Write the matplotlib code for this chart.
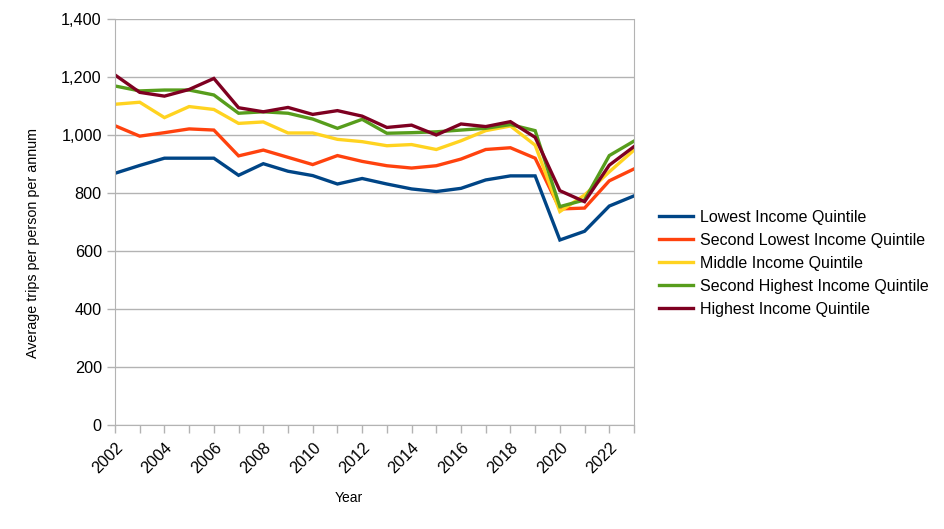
import numpy as np
import matplotlib
matplotlib.use("Agg")
import matplotlib.pyplot as plt
from matplotlib.ticker import FuncFormatter, MultipleLocator

plt.rcParams["font.family"] = ["Liberation Sans", "DejaVu Sans"]

# Years on the x axis
years = list(range(2002, 2024))

# Average trips per person per annum
lowest = [868, 895, 920, 920, 920, 861, 901, 875, 860, 831, 850,
          831, 814, 805, 816, 845, 859, 859, 638, 668, 755, 790]
second_lowest = [1032, 996, 1008, 1021, 1017, 928, 948, 923, 898, 929, 909,
                 894, 886, 894, 917, 950, 956, 920, 745, 748, 842, 883]
middle = [1106, 1113, 1060, 1098, 1088, 1040, 1045, 1007, 1007, 985, 977,
          963, 967, 950, 980, 1015, 1031, 965, 736, 793, 873, 948]
second_highest = [1169, 1152, 1155, 1155, 1138, 1075, 1080, 1075, 1055, 1023, 1054,
                  1006, 1008, 1011, 1017, 1023, 1036, 1015, 753, 776, 929, 979]
highest = [1207, 1147, 1134, 1157, 1195, 1094, 1080, 1095, 1071, 1084, 1065,
           1026, 1034, 1000, 1038, 1029, 1046, 992, 808, 770, 896, 960]

series_names = ["Lowest Income Quintile", "Second Lowest Income Quintile",
                "Middle Income Quintile", "Second Highest Income Quintile",
                "Highest Income Quintile"]
series_colors = ["#004586", "#ff420e", "#ffd320", "#579d1c", "#7e0021"]

fig = plt.figure(figsize=(9.45, 5.29), dpi=100)
ax = fig.add_axes([0.1217, 0.1966, 0.5492, 0.7675])

for vals, name, col in zip([lowest, second_lowest, middle, second_highest, highest],
                           series_names, series_colors):
    ax.plot(years, vals, color=col, linewidth=2.4, label=name, solid_joinstyle="miter")

ax.set_xlim(2002, 2023)
ax.set_ylim(0, 1400)

# y axis ticks every 200 with thousands separator
ax.yaxis.set_major_locator(MultipleLocator(200))
ax.yaxis.set_major_formatter(FuncFormatter(lambda v, p: f"{int(v):,}"))

# x ticks every year, labels every other year
ax.set_xticks(years)
ax.set_xticklabels([str(y) if y % 2 == 0 else "" for y in years],
                   rotation=45, ha="right", va="top", rotation_mode="anchor")

grid_col = "#b3b3b3"
ax.grid(axis="y", color=grid_col, linewidth=1)
ax.set_axisbelow(True)
for side in ["left", "bottom", "right"]:
    ax.spines[side].set_color(grid_col)
ax.spines["top"].set_visible(False)
ax.tick_params(axis="both", colors=grid_col, length=6, width=1, labelcolor="black",
               labelsize=11.7)
ax.tick_params(axis="x", pad=5)

ax.set_xlabel("Year", fontsize=10)
ax.set_ylabel("Average trips per person per annum", fontsize=10.3)
ax.xaxis.set_label_coords(0.451, -0.162)
ax.yaxis.set_label_coords(-0.145, 0.448)

fig.legend(loc="center left", bbox_to_anchor=(0.6974, 0.502), frameon=False,
           fontsize=11.5, handlelength=2.1, handletextpad=0.45, labelspacing=0.5,
           borderpad=0, borderaxespad=0)

fig.savefig("out.png", dpi=100)
